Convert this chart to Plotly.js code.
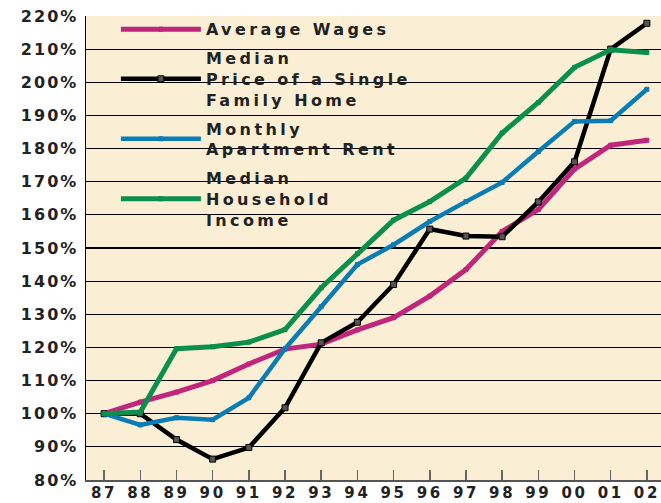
<!DOCTYPE html>
<html>
<head>
<meta charset="utf-8">
<script src="https://cdn.plot.ly/plotly-3.0.1.min.js"></script>
<style>
html,body{margin:0;padding:0;background:#fff;}
#chart{width:661px;height:503px;}
.main-svg .xtick text{letter-spacing:2.6px;}
.main-svg .ytick text{letter-spacing:2.0px;}
.main-svg .legend text{letter-spacing:3.4px;}
.main-svg .legend .scrollbox{clip-path:none !important;}
</style>
</head>
<body>
<div id="chart"></div>
<script>
var years = ["87","88","89","90","91","92","93","94","95","96","97","98","99","00","01","02"];
var wages = [100,103.5,106.5,110,115,119.5,121,125.3,129,135.5,143.5,155,161.6,173.8,181,182.5];
var homePrice = [100,100,92.2,86.3,89.8,101.8,121.4,127.6,139,155.7,153.6,153.4,163.9,176,210,217.8];
var rent = [100,96.6,98.8,98.2,104.8,119.6,132.3,145,151,158,164,169.8,179.1,188.2,188.4,197.9];
var income = [100,100.5,119.6,120.2,121.6,125.4,138,148.3,158.4,164,171.1,184.7,193.9,204.5,209.8,209];
var seriesNames = ["Average Wages","Median<br>Price of a Single<br>Family Home","Monthly<br>Apartment Rent","Median<br>Household<br>Income"];
var yTicks = [80,90,100,110,120,130,140,150,160,170,180,190,200,210,220];
var yTickText = yTicks.map(function(v){ return v + "%"; });

function mk(y, name, color, w, mfill, mline, msize, grp){
  return {x: years, y: y, name: name, type: "scatter", mode: "lines+markers",
    legendgroup: grp,
    line: {color: color, width: w},
    marker: {symbol: "square", size: msize, color: mfill, line: {color: mline, width: 1}}};
}
var data = [
  mk(wages, seriesNames[0], "#C0267C", 5, "#C0267C", "#C0267C", 4, "g1"),
  mk(homePrice, seriesNames[1], "#000000", 4.5, "#555555", "#000000", 6, "g2"),
  mk(rent, seriesNames[2], "#0A7DB4", 4.5, "#0A7DB4", "#0A7DB4", 4, "g3"),
  mk(income, seriesNames[3], "#0A8F4C", 5, "#0A8F4C", "#0A8F4C", 4, "g4")
];
var layout = {
  width: 661, height: 503,
  margin: {l: 86, r: 0, t: 16, b: 23},
  paper_bgcolor: "#ffffff",
  plot_bgcolor: "#FAEFD4",
  font: {family: "DejaVu Sans", size: 16, color: "#222222", weight: "bold"},
  showlegend: true,
  legend: {x: 0.052, y: 1.008, xanchor: "left", yanchor: "top", bgcolor: "rgba(0,0,0,0)",
    font: {family: "DejaVu Sans", size: 16, color: "#222222", weight: "bold"},
    itemwidth: 80, tracegroupgap: 5, traceorder: "grouped"},
  xaxis: {type: "category", range: [-0.5, 15.39], showgrid: false,
    ticks: "inside", ticklen: 10, tickwidth: 1.5, tickcolor: "#666666",
    showline: true, linecolor: "#555555", linewidth: 2,
    ticklabelstandoff: -2,
    tickfont: {family: "DejaVu Sans", size: 15, color: "#222222", weight: "bold"},
    fixedrange: true},
  yaxis: {range: [80, 220], tickmode: "array", tickvals: yTicks, ticktext: yTickText,
    showgrid: true, gridcolor: "#000000", gridwidth: 1.2,
    showline: true, linecolor: "#000000", linewidth: 1.5,
    zeroline: false, ticks: "", ticklabelstandoff: 3,
    tickfont: {family: "DejaVu Sans", size: 16, color: "#222222", weight: "bold"},
    fixedrange: true}
};
Plotly.newPlot("chart", data, layout, {displayModeBar: false, staticPlot: true});
</script>
</body>
</html>
